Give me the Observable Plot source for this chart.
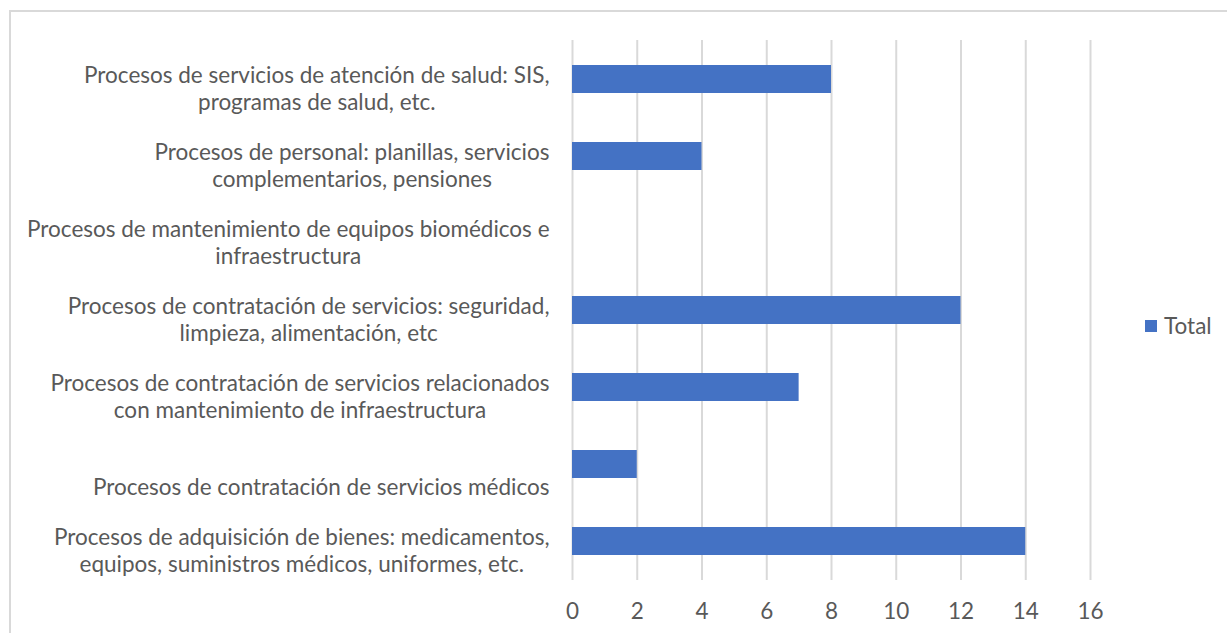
<!DOCTYPE html>
<html><head><meta charset="utf-8">
<script src="https://cdn.jsdelivr.net/npm/d3@7"></script>
<script src="https://cdn.jsdelivr.net/npm/@observablehq/plot@0.6"></script>
<style>
body{margin:0;background:#fff;}
#wrap{position:relative;width:1227px;height:633px;overflow:hidden;font-family:Lato, sans-serif;}
#frame{position:absolute;left:9px;top:10px;width:1300px;height:700px;border:2px solid #d9d9d9;box-sizing:border-box;}
#chart{position:absolute;left:0;top:0;}
#legend{position:absolute;left:1145px;top:312px;display:flex;align-items:center;color:#595959;font-size:22.5px;font-family:Lato, sans-serif;}
#legend .sw{display:inline-block;width:12px;height:12px;background:#4472C4;margin-right:7px;}
</style></head>
<body><div id="wrap"><div id="frame"></div><div id="chart"></div><div id="legend"><span class="sw"></span>Total</div></div>
<script>
const categories = [
  "Procesos de servicios de atención de salud: SIS, programas de salud, etc.",
  "Procesos de personal: planillas, servicios complementarios, pensiones",
  "Procesos de mantenimiento de equipos biomédicos e infraestructura",
  "Procesos de contratación de servicios: seguridad, limpieza, alimentación, etc",
  "Procesos de contratación de servicios relacionados con mantenimiento de infraestructura",
  "Procesos de contratación de servicios médicos",
  "Procesos de adquisición de bienes: medicamentos, equipos, suministros médicos, uniformes, etc."
];
const wrappedLabels = [
  "Procesos de servicios de atención de salud: SIS,\nprogramas de salud, etc.",
  "Procesos de personal: planillas, servicios\ncomplementarios, pensiones",
  "Procesos de mantenimiento de equipos biomédicos e\ninfraestructura",
  "Procesos de contratación de servicios: seguridad,\nlimpieza, alimentación, etc",
  "Procesos de contratación de servicios relacionados\ncon mantenimiento de infraestructura",
  "\nProcesos de contratación de servicios médicos",
  "Procesos de adquisición de bienes: medicamentos,\nequipos, suministros médicos, uniformes, etc."
];
const totals = [8, 4, null, 12, 7, 2, 14];
const xTicks = [0, 2, 4, 6, 8, 10, 12, 14, 16];
const seriesName = "Total";

const FS = 22.5;
const FONT = "Lato, sans-serif";
const TEXT = "#595959";
const BAR = "#4472C4";

const data = categories.map((c, i) => ({category: c, value: totals[i], label: wrappedLabels[i]}));

const ctx = document.createElement("canvas").getContext("2d");
ctx.font = `${FS}px Lato`;
const blockWidth = s => Math.max(...s.split("\n").map(l => ctx.measureText(l).width));

const labelMarks = data.map(d => Plot.text([d], {
  y: "category",
  text: "label",
  frameAnchor: "left",
  textAnchor: "middle",
  dx: -(23 + blockWidth(d.label) / 2),
  dy: 8,
  lineHeight: 27.5 / FS,
  fontSize: FS,
  fill: TEXT
}));

const chart = Plot.plot({
  width: 1227,
  height: 633,
  marginLeft: 572,
  marginRight: 137,
  marginTop: 40,
  marginBottom: 53,
  style: {background: "transparent", fontFamily: FONT, color: TEXT, fontSize: FS + "px"},
  x: {domain: [0, 16], ticks: xTicks, label: null},
  y: {domain: categories, paddingInner: 0.64, paddingOuter: 0.32, axis: null},
  marks: [
    Plot.gridX(xTicks, {stroke: "#d9d9d9", strokeOpacity: 1, strokeWidth: 2}),
    Plot.barX(data.filter(d => d.value != null), {y: "category", x: "value", fill: BAR}),
    Plot.axisX(xTicks, {tickSize: 0, tickPadding: 23, fontSize: FS, fill: TEXT, label: null}),
    ...labelMarks
  ]
});
document.getElementById("chart").appendChild(chart);
document.querySelector("#legend").lastChild.textContent = seriesName;
</script>
</body></html>
